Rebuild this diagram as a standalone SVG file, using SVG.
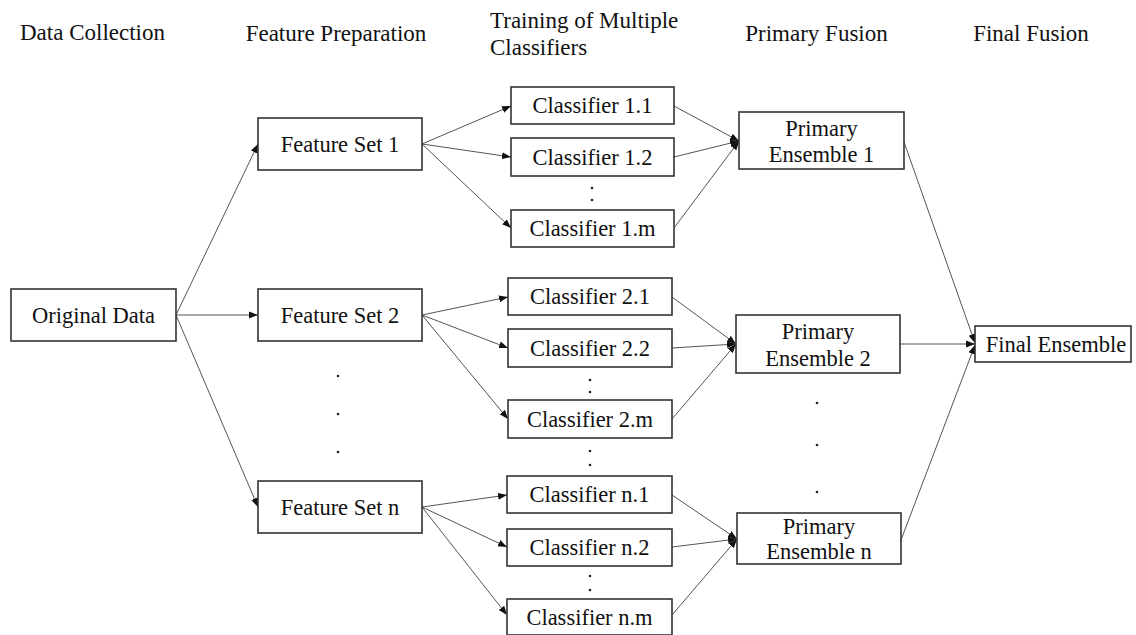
<svg xmlns="http://www.w3.org/2000/svg" width="1136" height="635" viewBox="0 0 1136 635">
<defs>
<marker id="ah" markerWidth="10" markerHeight="8" refX="9" refY="4" orient="auto" markerUnits="userSpaceOnUse">
<path d="M0,0.5 L9,4 L0,7.5 Z" fill="#111"/>
</marker>
<style>
.box{fill:#fff;stroke:#333;stroke-width:1.6}
.t{font-family:"Liberation Serif","Times New Roman",serif;font-size:22.5px;fill:#111;text-anchor:middle}
.h{font-family:"Liberation Serif","Times New Roman",serif;font-size:23px;fill:#111;text-anchor:middle}
.hs{font-family:"Liberation Serif","Times New Roman",serif;font-size:23px;fill:#111;text-anchor:start}
.c{stroke:#555;stroke-width:1;fill:none;marker-end:url(#ah)}
.d{fill:#222}
</style>
</defs>
<rect width="1136" height="635" fill="#fff"/>
<g id="headers">
<text class="h" x="92.5" y="40">Data Collection</text>
<text class="h" x="336" y="41">Feature Preparation</text>
<text class="hs" x="490" y="28">Training of Multiple</text>
<text class="hs" x="490" y="55">Classifiers</text>
<text class="h" x="816.5" y="41">Primary Fusion</text>
<text class="h" x="1031" y="41">Final Fusion</text>
</g>
<g id="connectors">
<line class="c" x1="176" y1="315" x2="258" y2="144"/>
<line class="c" x1="176" y1="315" x2="258" y2="315"/>
<line class="c" x1="176" y1="315" x2="258" y2="507"/>
<line class="c" x1="422" y1="144" x2="511" y2="106"/>
<line class="c" x1="422" y1="144" x2="511" y2="157"/>
<line class="c" x1="422" y1="144" x2="511" y2="228"/>
<line class="c" x1="422" y1="315" x2="508" y2="297"/>
<line class="c" x1="422" y1="315" x2="508" y2="348"/>
<line class="c" x1="422" y1="315" x2="508" y2="419"/>
<line class="c" x1="422" y1="507" x2="507" y2="495"/>
<line class="c" x1="422" y1="507" x2="507" y2="547"/>
<line class="c" x1="422" y1="507" x2="507" y2="615"/>
<line class="c" x1="674" y1="106" x2="739" y2="141"/>
<line class="c" x1="674" y1="157" x2="739" y2="141"/>
<line class="c" x1="674" y1="228" x2="739" y2="141"/>
<line class="c" x1="672" y1="297" x2="736" y2="344"/>
<line class="c" x1="672" y1="348" x2="736" y2="344"/>
<line class="c" x1="672" y1="419" x2="736" y2="344"/>
<line class="c" x1="672" y1="495" x2="737" y2="539"/>
<line class="c" x1="672" y1="547" x2="737" y2="539"/>
<line class="c" x1="672" y1="615" x2="737" y2="539"/>
<line class="c" x1="904" y1="142" x2="975" y2="343"/>
<line class="c" x1="900" y1="344" x2="975" y2="344"/>
<line class="c" x1="901" y1="540" x2="975" y2="345"/>
</g>
<g id="original-data"><rect class="box" x="11" y="289" width="165" height="52"/><text class="t" x="93.5" y="323">Original Data</text></g>
<g id="feature-set-1"><rect class="box" x="258" y="118" width="164" height="52"/><text class="t" x="340" y="152">Feature Set 1</text></g>
<g id="feature-set-2"><rect class="box" x="258" y="289" width="164" height="52"/><text class="t" x="340" y="323">Feature Set 2</text></g>
<g id="feature-set-n"><rect class="box" x="258" y="481" width="164" height="52"/><text class="t" x="340" y="515">Feature Set n</text></g>
<g id="feature-dots"><circle class="d" cx="338" cy="376" r="1.3"/><circle class="d" cx="338" cy="414" r="1.3"/><circle class="d" cx="338" cy="452" r="1.3"/></g>
<g id="classifier-1-1"><rect class="box" x="511" y="87" width="163" height="37"/><text class="t" x="592.5" y="113">Classifier 1.1</text></g>
<g id="classifier-1-2"><rect class="box" x="511" y="138" width="163" height="38"/><text class="t" x="592.5" y="165">Classifier 1.2</text></g>
<g id="classifier-1-m"><rect class="box" x="511" y="210" width="163" height="37"/><text class="t" x="592.5" y="236">Classifier 1.m</text></g>
<g id="classifier-2-1"><rect class="box" x="508" y="278" width="164" height="37"/><text class="t" x="590" y="304">Classifier 2.1</text></g>
<g id="classifier-2-2"><rect class="box" x="508" y="329" width="164" height="38"/><text class="t" x="590" y="356">Classifier 2.2</text></g>
<g id="classifier-2-m"><rect class="box" x="508" y="400" width="164" height="38"/><text class="t" x="590" y="427">Classifier 2.m</text></g>
<g id="classifier-n-1"><rect class="box" x="507" y="476" width="165" height="37"/><text class="t" x="589.5" y="502">Classifier n.1</text></g>
<g id="classifier-n-2"><rect class="box" x="507" y="529" width="165" height="37"/><text class="t" x="589.5" y="555">Classifier n.2</text></g>
<g id="classifier-n-m"><rect class="box" x="507" y="599" width="165" height="36"/><text class="t" x="589.5" y="625">Classifier n.m</text></g>
<g id="classifier-dots">
<circle class="d" cx="592" cy="188" r="1.3"/><circle class="d" cx="592" cy="200" r="1.3"/>
<circle class="d" cx="590" cy="380" r="1.3"/><circle class="d" cx="590" cy="392" r="1.3"/>
<circle class="d" cx="590" cy="451" r="1.3"/><circle class="d" cx="590" cy="465" r="1.3"/>
<circle class="d" cx="590" cy="576" r="1.3"/><circle class="d" cx="590" cy="590" r="1.3"/>
</g>
<g id="primary-ensemble-1"><rect class="box" x="739" y="112" width="165" height="57"/><text class="t" x="821.5" y="136">Primary</text><text class="t" x="821.5" y="162">Ensemble 1</text></g>
<g id="primary-ensemble-2"><rect class="box" x="736" y="315" width="164" height="58"/><text class="t" x="818" y="339">Primary</text><text class="t" x="818" y="366">Ensemble 2</text></g>
<g id="primary-ensemble-n"><rect class="box" x="737" y="513" width="164" height="51"/><text class="t" x="819" y="534">Primary</text><text class="t" x="819" y="559">Ensemble n</text></g>
<g id="primary-dots"><circle class="d" cx="817" cy="403" r="1.3"/><circle class="d" cx="817" cy="445" r="1.3"/><circle class="d" cx="817" cy="492" r="1.3"/></g>
<g id="final-ensemble"><rect class="box" x="975" y="326" width="156" height="36"/><text class="t" x="1056" y="352">Final Ensemble</text></g>
</svg>
